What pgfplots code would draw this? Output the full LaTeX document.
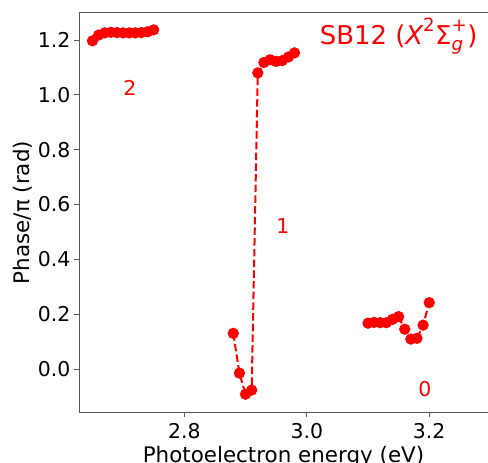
\documentclass[border=0pt]{standalone}
\usepackage{fontspec}
\setmainfont{DejaVu Sans}
\usepackage{amsmath}
\usepackage{pgfplots}
\pgfplotsset{compat=1.18}
\pgfplotstableread{
x y
2.65 1.197
2.66 1.218
2.67 1.226
2.68 1.228
2.69 1.227
2.70 1.226
2.71 1.226
2.72 1.226
2.73 1.227
2.74 1.230
2.75 1.237
}\grouptwo
\pgfplotstableread{
x y
2.88 0.130
2.89 -0.015
2.90 -0.092
2.91 -0.077
2.92 1.080
2.93 1.118
2.94 1.128
2.95 1.122
2.96 1.125
2.97 1.138
2.98 1.153
}\groupone
\pgfplotstableread{
x y
3.10 0.167
3.11 0.170
3.12 0.169
3.13 0.169
3.14 0.181
3.15 0.191
3.16 0.145
3.17 0.109
3.18 0.112
3.19 0.160
3.20 0.242
}\groupzero
\begin{document}
\begin{tikzpicture}
\begin{axis}[
  scale only axis,
  width=409bp, height=399.6bp,
  xmin=2.628, xmax=3.296,
  ymin=-0.158, ymax=1.2996,
  axis y line*=left,
  axis line style={black!65, line width=0.9bp},
  xtick={2.8,3.0,3.2},
  ytick={0,0.2,...,1.2},
  xticklabel style={yshift=-3bp, /pgf/number format/.cd, fixed, fixed zerofill, precision=1},
  yticklabel style={/pgf/number format/.cd, fixed, fixed zerofill, precision=1},
  /pgf/number format/assume math mode=true,
  tick align=outside,
  xtick pos=bottom,
  ytick pos=left,
  major tick length=5bp,
  tick style={black!65, line width=0.9bp},
  ticklabel style={font=\fontsize{20.5}{22}\selectfont},
  label style={font=\fontsize{21.5}{23}\selectfont},
  xlabel={Photoelectron energy (eV)},
  ylabel={Phase/π (rad)},
  ylabel style={yshift=-1bp},
  clip=false,
]
\addplot[red, line width=2bp, dash pattern=on 7.5bp off 3.2bp, mark=*, mark size=4.6bp, mark options={solid}] table[x=x,y=y] {\grouptwo};
\addplot[red, line width=2bp, dash pattern=on 7.5bp off 3.2bp, mark=*, mark size=4.6bp, mark options={solid}] table[x=x,y=y] {\groupone};
\addplot[red, line width=2bp, dash pattern=on 7.5bp off 3.2bp, mark=*, mark size=4.6bp, mark options={solid}] table[x=x,y=y] {\groupzero};
\node[red, font=\fontsize{20.5}{22}\selectfont] at (axis cs:2.711,1.025) {2};
\node[red, font=\fontsize{20.5}{22}\selectfont] at (axis cs:2.961,0.521) {1};
\node[red, font=\fontsize{20.5}{22}\selectfont] at (axis cs:3.193,-0.073) {0};
\node[red, font=\fontsize{26}{28}\selectfont, anchor=base east, inner sep=0pt] at (axis cs:3.279,1.185) {SB12 ($\textit{X}^{\text{2}}\text{Σ}_{\textit{g}}^{\text{+}}$)};
\end{axis}
\pgfresetboundingbox
\path ([xshift=-79bp,yshift=-50.7bp]current axis.south west) rectangle ([yshift=12.7bp]current axis.north east);
\end{tikzpicture}
\end{document}
